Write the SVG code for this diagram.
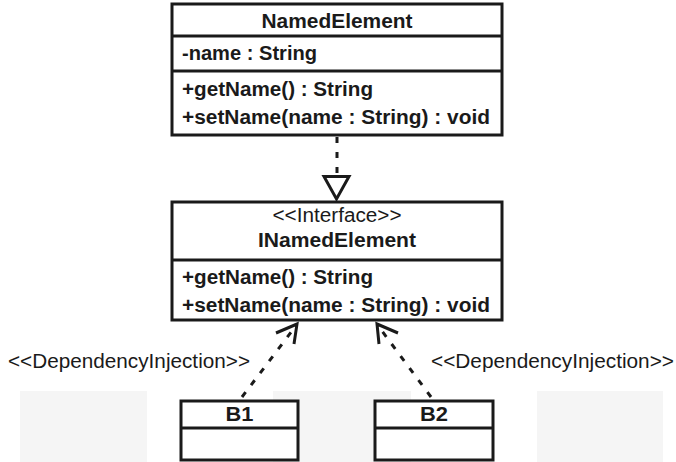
<svg xmlns="http://www.w3.org/2000/svg" width="676" height="462" viewBox="0 0 676 462">
<style>
.box{fill:#fff;stroke:#1a1a1a;stroke-width:3}
.div{stroke:#1a1a1a;stroke-width:3}
.b{font-family:"Liberation Sans",Arial,sans-serif;font-weight:bold;font-size:20px;fill:#1a1a1a}
.r{font-family:"Liberation Sans",Arial,sans-serif;font-size:20px;fill:#1a1a1a}
.dash{stroke:#1a1a1a;stroke-width:3;stroke-dasharray:6 9;fill:none}
.head{stroke:#1a1a1a;stroke-width:3;fill:none}
.bg{fill:#f5f5f5}
</style>
<rect width="676" height="462" fill="#fff"/>
<g id="background">
<rect class="bg" x="20" y="391" width="127" height="71"/>
<rect class="bg" x="273" y="391" width="138" height="71"/>
<rect class="bg" x="537" y="391" width="126" height="71"/>
</g>
<g id="NamedElement">
<rect class="box" x="172" y="4" width="330" height="131"/>
<line class="div" x1="172" y1="36" x2="502" y2="36"/>
<line class="div" x1="172" y1="71" x2="502" y2="71"/>
<text class="b" x="337" y="28" text-anchor="middle" textLength="151" lengthAdjust="spacingAndGlyphs">NamedElement</text>
<text class="b" x="182" y="60" textLength="135" lengthAdjust="spacingAndGlyphs">-name : String</text>
<text class="b" x="182" y="96" textLength="191" lengthAdjust="spacingAndGlyphs">+getName() : String</text>
<text class="b" x="182" y="124" textLength="308" lengthAdjust="spacingAndGlyphs">+setName(name : String) : void</text>
</g>
<g id="INamedElement">
<rect class="box" x="172" y="202" width="330" height="118"/>
<line class="div" x1="172" y1="260" x2="502" y2="260"/>
<text class="r" x="337" y="222" text-anchor="middle" textLength="129" lengthAdjust="spacingAndGlyphs">&lt;&lt;Interface&gt;&gt;</text>
<text class="b" x="337" y="247" text-anchor="middle" textLength="158" lengthAdjust="spacingAndGlyphs">INamedElement</text>
<text class="b" x="182" y="284" textLength="191" lengthAdjust="spacingAndGlyphs">+getName() : String</text>
<text class="b" x="182" y="312" textLength="308" lengthAdjust="spacingAndGlyphs">+setName(name : String) : void</text>
</g>
<g id="B1">
<rect class="box" x="181" y="401" width="117" height="59"/>
<line class="div" x1="181" y1="428" x2="298" y2="428"/>
<text class="b" x="239.5" y="421" text-anchor="middle" textLength="28" lengthAdjust="spacingAndGlyphs">B1</text>
</g>
<g id="B2">
<rect class="box" x="375" y="401" width="118" height="59"/>
<line class="div" x1="375" y1="428" x2="493" y2="428"/>
<text class="b" x="434" y="421" text-anchor="middle" textLength="28" lengthAdjust="spacingAndGlyphs">B2</text>
</g>
<g id="connectors">
<line class="dash" x1="337" y1="137" x2="337" y2="176"/>
<polygon points="324,176.5 349,176.5 336.5,199" fill="#fff" stroke="#1a1a1a" stroke-width="3" stroke-linejoin="miter"/>
<line class="dash" x1="242" y1="397" x2="295" y2="327"/>
<polyline class="head" points="276,333 297,324 294,344"/>
<line class="dash" x1="431" y1="397" x2="379" y2="327"/>
<polyline class="head" points="398,333 377,324 379,344"/>
<text class="r" x="8" y="368" textLength="242" lengthAdjust="spacingAndGlyphs">&lt;&lt;DependencyInjection&gt;&gt;</text>
<text class="r" x="431" y="368" textLength="243" lengthAdjust="spacingAndGlyphs">&lt;&lt;DependencyInjection&gt;&gt;</text>
</g>
</svg>
